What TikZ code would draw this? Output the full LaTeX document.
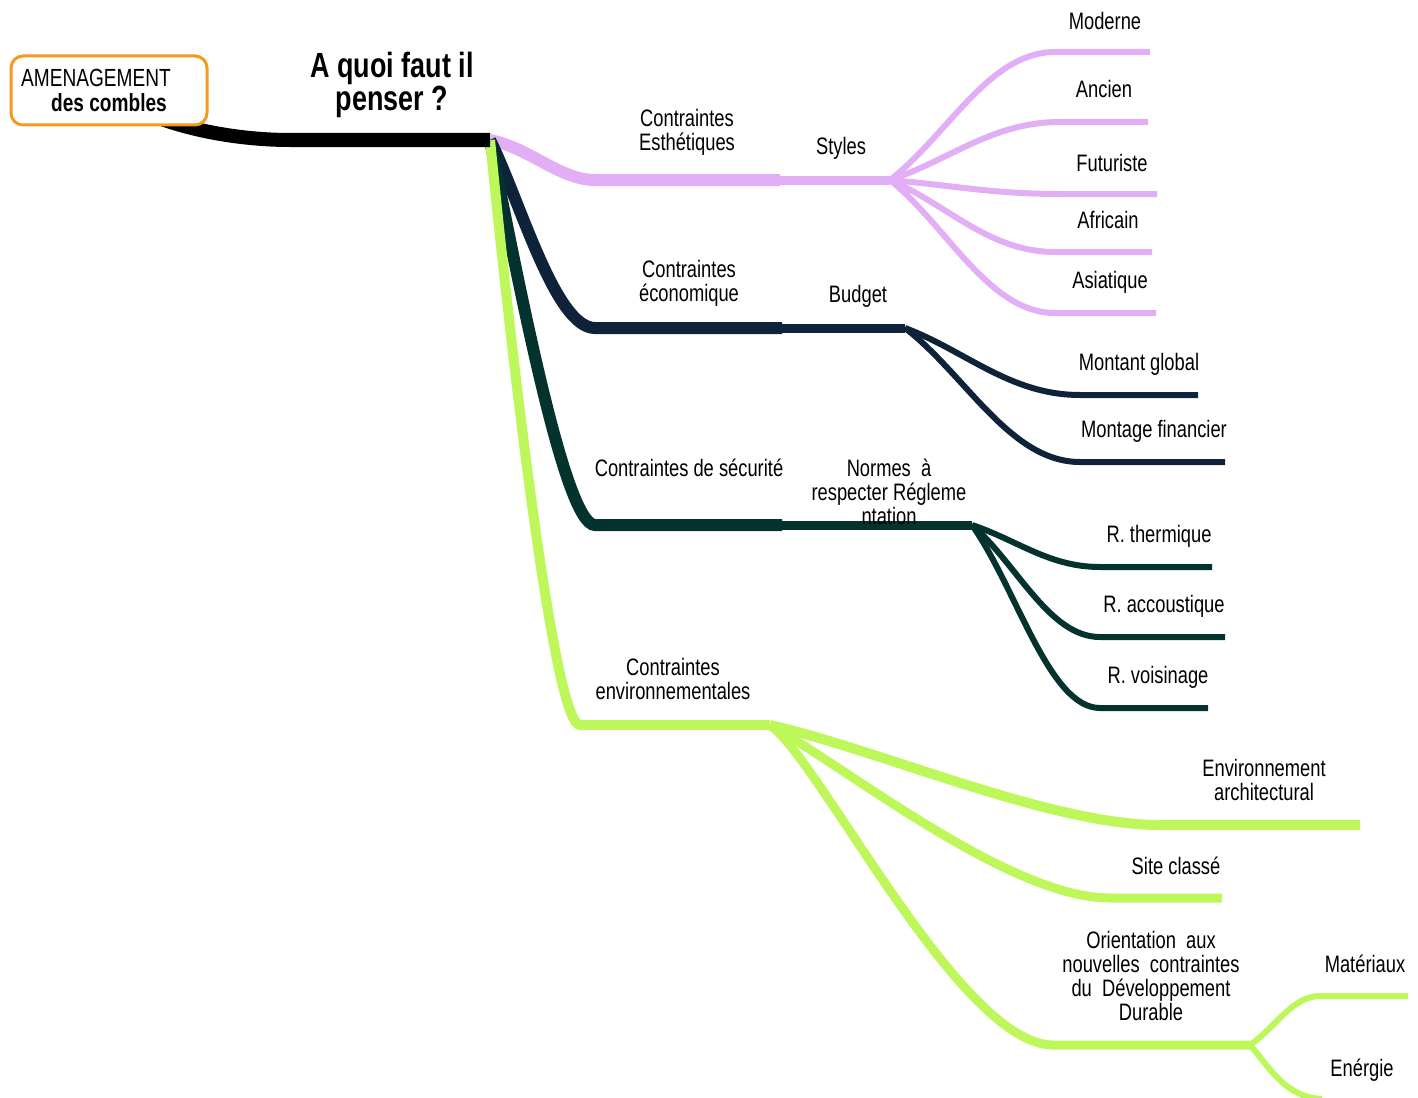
\documentclass[tikz,border=0pt]{standalone}
\usepackage{fontspec}
\setmainfont{Liberation Sans}[FakeStretch=0.77]
\usetikzlibrary{backgrounds}

\definecolor{esth}{RGB}{226,174,245}
\definecolor{eco}{RGB}{14,34,58}
\definecolor{secu}{RGB}{4,50,46}
\definecolor{envi}{RGB}{189,247,90}
\definecolor{boxorange}{RGB}{245,152,30}

\tikzstyle{txt}=[align=center, inner sep=0pt, font=\fontsize{11.9}{12}\selectfont]
\tikzstyle{main}=[line width=6pt]
\tikzstyle{sub}=[line width=4.5pt]
\tikzstyle{leaf}=[line width=3pt]

\begin{document}
\begin{tikzpicture}[x=0.5pt,y=-0.5pt]
	\useasboundingbox (0,0) rectangle (1418,1097);

	% racine et titre
	\node[draw=boxorange, line width=1.5pt, rounded corners=6pt, fill=white,
		minimum width=98pt, minimum height=34.5pt, inner sep=0pt, align=center,
		font=\fontsize{12.4}{12.5}\selectfont] (root) at (109,90.5)
		{AMENAGEMENT\hspace*{13pt}\\\textbf{des~combles}};
	\node[align=center, inner sep=0pt, font=\fontsize{17.5}{15}\selectfont\bfseries] (titre) at (392,85) {A quoi faut il\\penser ?};

	% points de jonction
	\coordinate (hub) at (490,140);
	\coordinate (esth1) at (780,180);
	\coordinate (styles) at (890,180);
	\coordinate (eco1) at (782,328);
	\coordinate (budget) at (905,328);
	\coordinate (secu1) at (782,525);
	\coordinate (normes) at (972,525);
	\coordinate (envi1) at (770,725);
	\coordinate (orient) at (1250,1045);

	% bouts des feuilles
	\coordinate (moderne) at (1150,52);
	\coordinate (ancien) at (1148,122);
	\coordinate (futur) at (1157,194);
	\coordinate (africain) at (1152,252);
	\coordinate (asiat) at (1156,313);
	\coordinate (montant) at (1198,395);
	\coordinate (montage) at (1225,462);
	\coordinate (therm) at (1212,567);
	\coordinate (accous) at (1225,637);
	\coordinate (voisin) at (1208,708);
	\coordinate (archi) at (1360,825);
	\coordinate (site) at (1222,898);
	\coordinate (mater) at (1408,996);
	\coordinate (ener) at (1322,1099);

	\begin{scope}[on background layer]
	% Esthetiques
	\draw[esth,main] (hub) .. controls (530,148) and (560,180) .. (595,180) -- (esth1);
	\draw[esth,sub] (esth1) -- (styles);
	\draw[esth,leaf] (styles) .. controls (948,135) and (989,52) .. (1055,52) -- (moderne);
	\draw[esth,leaf] (styles) .. controls (950,160) and (992,122) .. (1060,122) -- (ancien);
	\draw[esth,leaf] (styles) .. controls (950,185) and (992,194) .. (1060,194) -- (futur);
	\draw[esth,leaf] (styles) .. controls (948,205) and (989,252) .. (1055,252) -- (africain);
	\draw[esth,leaf] (styles) .. controls (948,227) and (989,313) .. (1055,313) -- (asiat);

	% economique
	\draw[eco,main] (hub) .. controls (520,200) and (555,328) .. (595,328) -- (eco1);
	\draw[eco,sub] (eco1) -- (budget);
	\draw[eco,leaf] (budget) .. controls (966,351) and (1010,395) .. (1080,395) -- (montant);
	\draw[eco,leaf] (budget) .. controls (966,375) and (1010,462) .. (1080,462) -- (montage);

	% securite
	\draw[secu,main] (hub) .. controls (520,290) and (565,525) .. (595,525) -- (secu1);
	\draw[secu,sub] (secu1) -- (normes);
	\draw[secu,leaf] (normes) .. controls (1017,540) and (1049,567) .. (1100,567) -- (therm);
	\draw[secu,leaf] (normes) .. controls (1017,564) and (1049,637) .. (1100,637) -- (accous);
	\draw[secu,leaf] (normes) .. controls (1017,589) and (1049,708) .. (1100,708) -- (voisin);

	% environnement
	\draw[envi,line width=5pt] (hub) .. controls (515,390) and (555,725) .. (580,725) -- (envi1);
	\draw[envi,line width=5pt] (envi1) .. controls (880,750) and (1050,825) .. (1160,825) -- (archi);
	\draw[envi,sub] (envi1) .. controls (850,770) and (1010,898) .. (1110,898) -- (site);
	\draw[envi,sub] (envi1) .. controls (820,760) and (960,1045) .. (1053,1045) -- (orient);
	\draw[envi,leaf] (orient) .. controls (1275,1028) and (1292,996) .. (1320,996) -- (mater);
	\draw[envi,leaf] (orient) .. controls (1270,1068) and (1285,1097) .. (ener);

	% tronc
	\draw[black,line width=7pt] (root.center) .. controls (150,125) and (230,140) .. (290,140) -- (hub);
	\end{scope}

	% etiquettes
	\node[txt] (l-esth) at (687,132) {Contraintes\\Esthétiques};
	\node[txt] (l-styles) at (841,148) {Styles};
	\node[txt] (l-moderne) at (1105,21) {Moderne};
	\node[txt] (l-ancien) at (1104,89) {Ancien};
	\node[txt] (l-futur) at (1112,163) {Futuriste};
	\node[txt] (l-africain) at (1108,220) {Africain};
	\node[txt] (l-asiat) at (1110,282) {Asiatique};

	\node[txt] (l-eco) at (689,283) {Contraintes\\économique};
	\node[txt] (l-budget) at (858,296) {Budget};
	\node[txt] (l-montant) at (1139,364) {Montant global};
	\node[txt] (l-montage) at (1154,431) {Montage financier};

	\node[txt] (l-secu) at (689,468) {Contraintes de sécurité};
	\node[txt] (l-normes) at (889,492) {Normes~ à\\respecter Régleme\\ntation};
	\node[txt] (l-therm) at (1159,536) {R. thermique};
	\node[txt] (l-accous) at (1164,606) {R. accoustique};
	\node[txt] (l-voisin) at (1158,677) {R. voisinage};

	\node[txt] (l-envi) at (673,679) {Contraintes\\environnementales};
	\node[txt] (l-archi) at (1264,780) {Environnement\\architectural};
	\node[txt] (l-site) at (1176,866) {Site classé};
	\node[txt] (l-orient) at (1151,976) {Orientation~ aux\\nouvelles~ contraintes\\du~ Développement\\Durable};
	\node[txt] (l-mater) at (1365,964) {Matériaux};
	\node[txt] (l-ener) at (1362,1070) {Enérgie};

\end{tikzpicture}
\end{document}
